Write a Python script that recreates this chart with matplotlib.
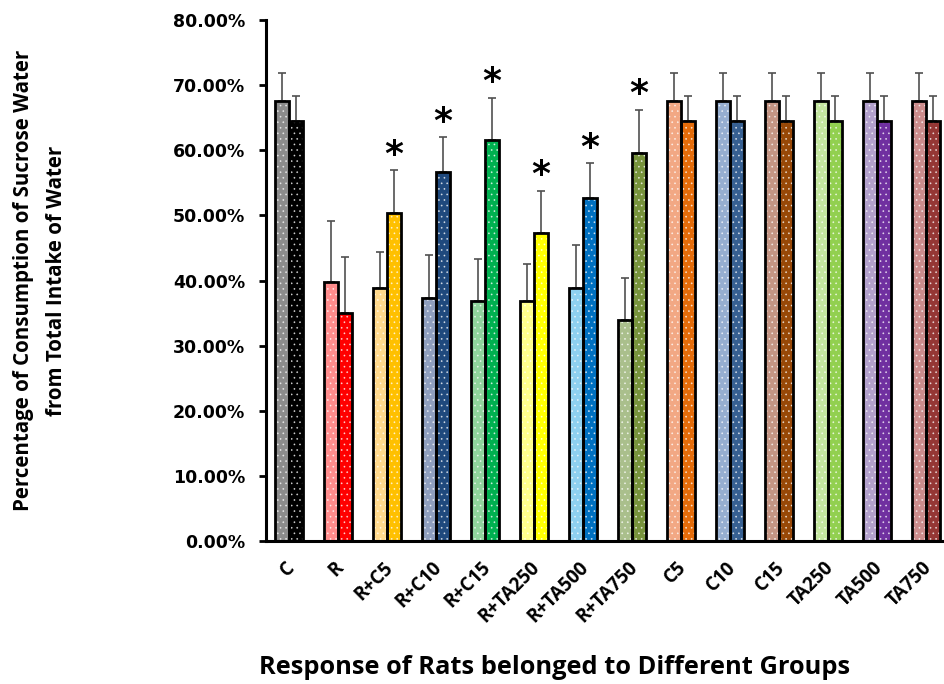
import matplotlib
matplotlib.use("Agg")
import matplotlib.pyplot as plt
import numpy as np

groups = ["C", "R", "R+C5", "R+C10", "R+C15", "R+TA250", "R+TA500", "R+TA750",
          "C5", "C10", "C15", "TA250", "TA500", "TA750"]
first_vals = [67.5, 39.8, 38.9, 37.3, 36.9, 36.9, 38.9, 33.9, 67.5, 67.5, 67.5, 67.5, 67.5, 67.5]
first_err = [4.4, 9.4, 5.5, 6.6, 6.4, 5.7, 6.6, 6.5, 4.4, 4.4, 4.4, 4.4, 4.4, 4.4]
second_vals = [64.5, 35.0, 50.3, 56.7, 61.6, 47.3, 52.7, 59.6, 64.5, 64.5, 64.5, 64.5, 64.5, 64.5]
second_err = [3.8, 8.6, 6.6, 5.3, 6.5, 6.5, 5.3, 6.6, 3.8, 3.8, 3.8, 3.8, 3.8, 3.8]
significant = [False, False, True, True, True, True, True, True,
               False, False, False, False, False, False]
first_colors = ["#8C8C8C", "#FF8C8C", "#FFD98C", "#8E9EBE", "#8FD49C", "#FFFF8C",
                "#8ED0F0", "#AABF8C", "#F2A884", "#96AED0", "#C49584", "#C4E6A0",
                "#B2A0CC", "#CC8C8C"]
second_colors = ["#000000", "#FF0000", "#FFC000", "#1F497D", "#00B050", "#FFFF00",
                 "#0070C0", "#77933C", "#E46C0A", "#376092", "#984807", "#92D050",
                 "#7030A0", "#953735"]

plt.rcParams["hatch.linewidth"] = 0.5
fig = plt.figure(figsize=(9.45, 6.84), dpi=100)
ax = fig.add_axes([0.2815, 0.209, 1 - 0.2815, 0.7617])

x = np.arange(len(groups))
w = 0.286

for offs, vals, errs, cols in [(-w / 2, first_vals, first_err, first_colors),
                               (w / 2, second_vals, second_err, second_colors)]:
    xs = x + offs
    ax.errorbar(xs, vals, yerr=[np.zeros(len(vals)), errs], fmt="none",
                ecolor="#505050", elinewidth=1.2, capsize=3, capthick=1.2, zorder=1)
    ax.bar(xs, vals, width=w, color=cols, edgecolor="#FFFFFFAA", linewidth=0,
           hatch="...", zorder=2)
    ax.bar(xs, vals, width=w, color="none", edgecolor="black", linewidth=2.0, zorder=3)

for i, sig in enumerate(significant):
    if sig:
        ax.text(x[i] + w / 2, second_vals[i] + second_err[i] + 2.4, "*",
                ha="center", va="center", fontsize=26, fontweight="bold",
                family="DejaVu Sans", color="black")

ax.set_ylim(0, 80)
ax.set_xlim(-0.47, 13.39)
ax.set_yticks(np.arange(0, 81, 10))
ax.set_yticklabels([f"{v:.2f}%" for v in np.arange(0, 81, 10)],
                   fontsize=12.5, fontweight="bold", family="DejaVu Sans")
ax.set_xticks(x + 0.06)
ax.set_xticklabels(groups, rotation=45, ha="right", va="center", rotation_mode="anchor",
                   fontsize=13.5, fontweight="bold", family="Open Sans")
ax.tick_params(axis="x", length=0, pad=17)
ax.tick_params(axis="y", length=5, width=2, direction="out", pad=10)

for s in ["top", "right"]:
    ax.spines[s].set_visible(False)
ax.spines["left"].set_linewidth(2.2)
ax.spines["bottom"].set_linewidth(2.2)

fig.text(0.042, 0.59, "Percentage of Consumption of Sucrose Water\nfrom Total Intake of Water",
         rotation=90, ha="center", va="center", fontsize=14.8, fontweight="bold",
         family="Open Sans", linespacing=1.75)
fig.text(0.587, 0.024, "Response of Rats belonged to Different Groups",
         ha="center", va="center", fontsize=18.3, fontweight="bold", family="Open Sans")

fig.savefig("out.png", dpi=100)
